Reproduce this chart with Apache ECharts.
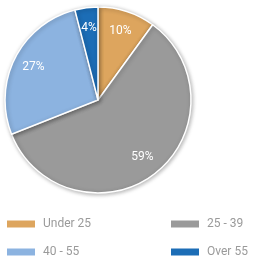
<!DOCTYPE html>
<html>
<head>
<meta charset="utf-8">
<script src="https://cdn.jsdelivr.net/npm/echarts@6/dist/echarts.min.js"></script>
<style>
  html, body { margin: 0; padding: 0; background: #fff; }
  #chart { width: 255px; height: 258px; }
</style>
</head>
<body>
<div id="chart"></div>
<script>
// age groups and their share (%)
const categories = ['Under 25', '25 - 39', '40 - 55', 'Over 55']
const shares = [10, 59, 27, 4]
const colors = ['#DDA55E', '#9A9A9A', '#8CB3E0', '#1C6DB6']

const pieData = categories.map((name, i) => ({
  name,
  value: shares[i],
  itemStyle: { color: colors[i] }
}))

const chart = echarts.init(document.getElementById('chart'), null, { renderer: 'canvas' })

// one legend per item so the 2x2 grid stays put
const legendSlots = [[5, 218], [169, 218], [5, 246], [169, 246]]
const legends = categories.map((name, i) => ({
  data: [name],
  left: legendSlots[i][0],
  top: legendSlots[i][1],
  padding: 0,
  itemWidth: 30,
  itemHeight: 9,
  itemGap: 7,
  icon: 'rect',
  textStyle: {
    color: '#9a9a9a',
    fontSize: 12,
    fontFamily: 'Roboto, sans-serif',
    padding: [0, 0, 0, 2]
  }
}))

chart.setOption({
  animation: false,
  legend: legends,
  series: [
    {
      type: 'pie',
      center: [98, 100],
      radius: [0, 93],
      startAngle: 90,
      clockwise: true,
      silent: true,
      data: pieData,
      label: { show: false },
      labelLine: { show: false },
      itemStyle: {
        borderColor: '#fff',
        borderWidth: 1.5,
        shadowBlur: 4,
        shadowColor: 'rgba(0,0,0,0.3)',
        shadowOffsetX: 1,
        shadowOffsetY: 1
      }
    },
    {
      // transparent ring used only to place the percentage labels
      type: 'pie',
      center: [98, 100],
      radius: [46, 93],
      startAngle: 90,
      clockwise: true,
      silent: true,
      data: pieData.map(d => ({ name: d.name, value: d.value })),
      itemStyle: { color: 'rgba(0,0,0,0)' },
      label: {
        show: true,
        position: 'inside',
        formatter: '{c}%',
        color: '#fff',
        fontSize: 12,
        fontFamily: 'Roboto, sans-serif'
      },
      labelLine: { show: false }
    }
  ]
})
</script>
</body>
</html>
